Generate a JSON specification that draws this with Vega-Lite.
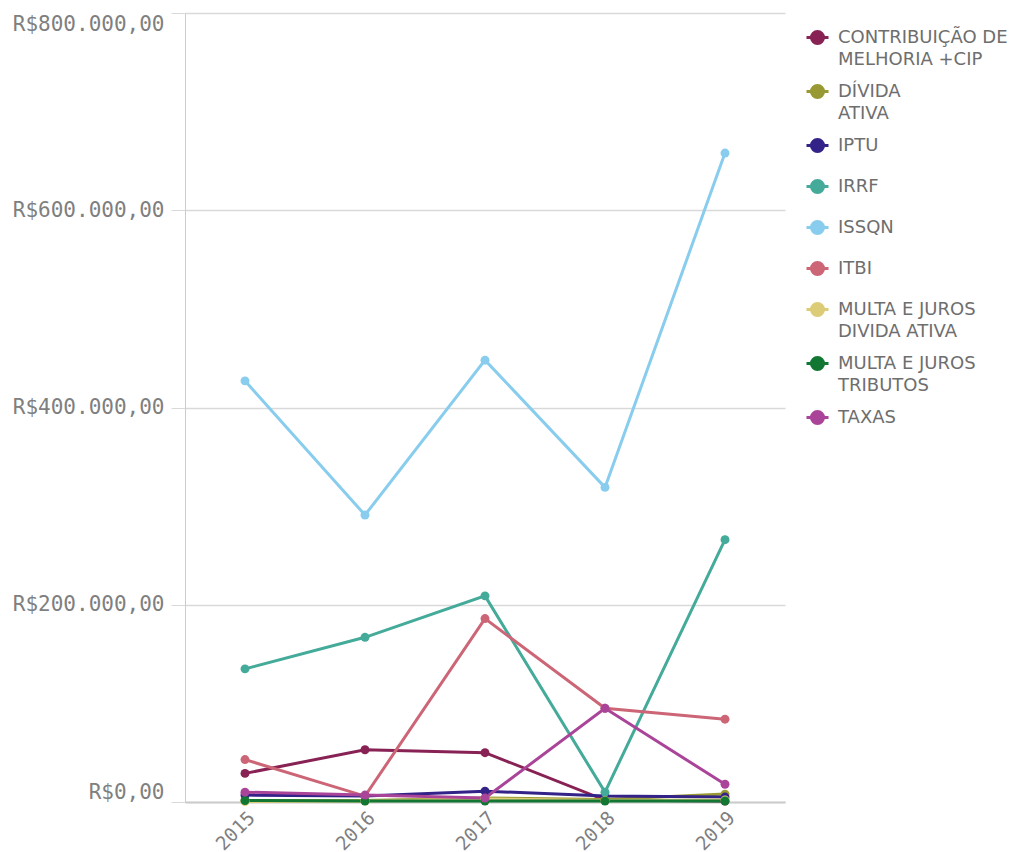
{
  "$schema": "https://vega.github.io/schema/vega-lite/v6.json",
  "width": 600,
  "height": 789,
  "autosize": "none",
  "padding": {"left": 185, "top": 13, "right": 248, "bottom": 50},
  "background": "white",
  "config": {
    "locale": {"number": {"decimal": ",", "thousands": ".", "grouping": [3], "currency": ["R$", ""]}},
    "view": {"stroke": null}
  },
  "data": {
    "values": [
      {"ano": "2015", "tributo": "CONTRIBUIÇÃO DE MELHORIA +CIP", "valor": 29000},
      {"ano": "2016", "tributo": "CONTRIBUIÇÃO DE MELHORIA +CIP", "valor": 53000},
      {"ano": "2017", "tributo": "CONTRIBUIÇÃO DE MELHORIA +CIP", "valor": 50000},
      {"ano": "2018", "tributo": "CONTRIBUIÇÃO DE MELHORIA +CIP", "valor": 2000},
      {"ano": "2019", "tributo": "CONTRIBUIÇÃO DE MELHORIA +CIP", "valor": 1000},
      {"ano": "2015", "tributo": "DÍVIDA ATIVA", "valor": 1500},
      {"ano": "2016", "tributo": "DÍVIDA ATIVA", "valor": 1500},
      {"ano": "2017", "tributo": "DÍVIDA ATIVA", "valor": 4000},
      {"ano": "2018", "tributo": "DÍVIDA ATIVA", "valor": 2500},
      {"ano": "2019", "tributo": "DÍVIDA ATIVA", "valor": 8000},
      {"ano": "2015", "tributo": "IPTU", "valor": 7000},
      {"ano": "2016", "tributo": "IPTU", "valor": 6000},
      {"ano": "2017", "tributo": "IPTU", "valor": 11000},
      {"ano": "2018", "tributo": "IPTU", "valor": 6000},
      {"ano": "2019", "tributo": "IPTU", "valor": 5000},
      {"ano": "2015", "tributo": "IRRF", "valor": 135000},
      {"ano": "2016", "tributo": "IRRF", "valor": 167000},
      {"ano": "2017", "tributo": "IRRF", "valor": 209000},
      {"ano": "2018", "tributo": "IRRF", "valor": 10000},
      {"ano": "2019", "tributo": "IRRF", "valor": 266000},
      {"ano": "2015", "tributo": "ISSQN", "valor": 427000},
      {"ano": "2016", "tributo": "ISSQN", "valor": 291000},
      {"ano": "2017", "tributo": "ISSQN", "valor": 448000},
      {"ano": "2018", "tributo": "ISSQN", "valor": 319000},
      {"ano": "2019", "tributo": "ISSQN", "valor": 658000},
      {"ano": "2015", "tributo": "ITBI", "valor": 43000},
      {"ano": "2016", "tributo": "ITBI", "valor": 6000},
      {"ano": "2017", "tributo": "ITBI", "valor": 186000},
      {"ano": "2018", "tributo": "ITBI", "valor": 95000},
      {"ano": "2019", "tributo": "ITBI", "valor": 84000},
      {"ano": "2015", "tributo": "MULTA E JUROS DIVIDA ATIVA", "valor": 500},
      {"ano": "2016", "tributo": "MULTA E JUROS DIVIDA ATIVA", "valor": 1000},
      {"ano": "2017", "tributo": "MULTA E JUROS DIVIDA ATIVA", "valor": 3000},
      {"ano": "2018", "tributo": "MULTA E JUROS DIVIDA ATIVA", "valor": 1500},
      {"ano": "2019", "tributo": "MULTA E JUROS DIVIDA ATIVA", "valor": 2000},
      {"ano": "2015", "tributo": "MULTA E JUROS TRIBUTOS", "valor": 1500},
      {"ano": "2016", "tributo": "MULTA E JUROS TRIBUTOS", "valor": 1000},
      {"ano": "2017", "tributo": "MULTA E JUROS TRIBUTOS", "valor": 1000},
      {"ano": "2018", "tributo": "MULTA E JUROS TRIBUTOS", "valor": 1000},
      {"ano": "2019", "tributo": "MULTA E JUROS TRIBUTOS", "valor": 1000},
      {"ano": "2015", "tributo": "TAXAS", "valor": 10000},
      {"ano": "2016", "tributo": "TAXAS", "valor": 7000},
      {"ano": "2017", "tributo": "TAXAS", "valor": 4000},
      {"ano": "2018", "tributo": "TAXAS", "valor": 95000},
      {"ano": "2019", "tributo": "TAXAS", "valor": 18000}
    ]
  },
  "mark": {"type": "line", "strokeWidth": 3, "point": {"filled": true, "size": 80, "opacity": 1}},
  "encoding": {
    "x": {
      "field": "ano", "type": "ordinal",
      "scale": {"type": "point", "padding": 0.5},
      "axis": {
        "title": null, "labelAngle": -45, "labelFont": "DejaVu Sans Mono", "labelFontSize": 19,
        "labelColor": "#7f7f7f", "ticks": false, "labelPadding": 6,
        "domainColor": "#cccccc", "domainWidth": 2, "grid": false
      }
    },
    "y": {
      "field": "valor", "type": "quantitative",
      "scale": {"domain": [0, 800000], "nice": false},
      "axis": {
        "title": null, "values": [0, 200000, 400000, 600000, 800000], "format": "$,.2f",
        "labelFont": "DejaVu Sans Mono", "labelFontSize": 21, "labelColor": "#7f7f7f",
        "labelFlush": true, "labelPadding": 7, "tickSize": 14, "tickColor": "#d9d9d9",
        "domainColor": "#cccccc", "gridColor": "#d9d9d9", "gridWidth": 1.5
      }
    },
    "color": {
      "field": "tributo", "type": "nominal",
      "scale": {
        "domain": ["CONTRIBUIÇÃO DE MELHORIA +CIP", "DÍVIDA ATIVA", "IPTU", "IRRF", "ISSQN", "ITBI", "MULTA E JUROS DIVIDA ATIVA", "MULTA E JUROS TRIBUTOS", "TAXAS"],
        "range": ["#882255", "#999933", "#332288", "#44aa99", "#88ccee", "#cc6677", "#ddcc77", "#117733", "#aa4499"]
      },
      "legend": {
        "title": null, "orient": "none", "legendX": 620, "legendY": 12,
        "labelFont": "DejaVu Sans", "labelFontSize": 18, "labelColor": "#6e6e6e", "labelLimit": 300,
        "labelOffset": 8, "rowPadding": 4,
        "symbolType": "M-1,0L1,0M-0.55,0A0.55,0.55,0,1,0,0.55,0A0.55,0.55,0,1,0,-0.55,0ZM0,-1.1L0,-1.1M0,1.1L0,1.1",
        "symbolSize": 484, "symbolStrokeWidth": 3,
        "labelExpr": "datum.label == 'CONTRIBUIÇÃO DE MELHORIA +CIP' ? ['CONTRIBUIÇÃO DE', 'MELHORIA +CIP'] : datum.label == 'DÍVIDA ATIVA' ? ['DÍVIDA', 'ATIVA'] : indexof(datum.label, 'MULTA E JUROS ') == 0 ? ['MULTA E JUROS', substring(datum.label, 14)] : datum.label",
        "encode": {
          "symbols": {"update": {"fill": {"scale": "color", "field": "value"}, "stroke": {"scale": "color", "field": "value"}, "fillOpacity": {"value": 1}}},
          "labels": {"update": {"lineHeight": {"value": 22}}}
        }
      }
    }
  }
}
